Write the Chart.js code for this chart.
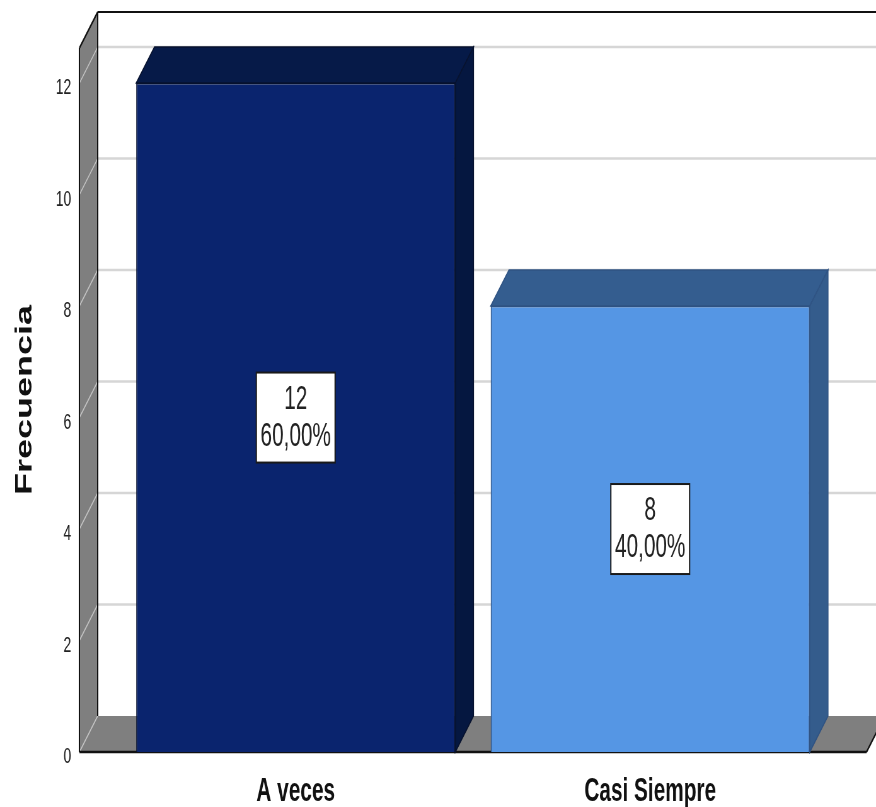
<!DOCTYPE html>
<html>
<head>
<meta charset="utf-8">
<script src="https://cdn.jsdelivr.net/npm/chart.js@4/dist/chart.umd.min.js"></script>
<style>
  html, body { margin: 0; padding: 0; background: #fff; overflow: hidden; }
  #wrap { width: 876px; height: 807px; overflow: hidden; position: relative; }
  /* the reference is squeezed horizontally, so draw wide and squeeze it */
  #chart { transform: scaleX(0.6302); transform-origin: 0 0; }
</style>
</head>
<body>
<div id="wrap"><canvas id="chart" width="1390" height="807"></canvas></div>
<script>
const categories = ['A veces', 'Casi Siempre']
const frequencies = [12, 8]
const yTicks = [0, 2, 4, 6, 8, 10, 12]

const frontColors = ['#0a246e', '#5596e4']
const topColors = ['#061a48', '#345d8f']
const sideColors = ['#051740', '#345c8c']
const edgeColors = ['#07122e', '#2f5383']

const DX = 29, DY = -36   // depth of the 3d box
const EXT = 62            // how far walls/floor run past the plot area

const total = frequencies.reduce((a, b) => a + b, 0)
const pct = v => (v / total * 100).toFixed(2).replace('.', ',') + '%'

function poly(ctx, pts) {
  ctx.beginPath()
  ctx.moveTo(pts[0][0], pts[0][1])
  pts.slice(1).forEach(p => ctx.lineTo(p[0], p[1]))
  ctx.closePath()
}
function line(ctx, x1, y1, x2, y2) {
  ctx.beginPath(); ctx.moveTo(x1, y1); ctx.lineTo(x2, y2); ctx.stroke()
}

const box3d = {
  id: 'box3d',
  beforeDatasetsDraw(chart) {
    const { ctx, chartArea: a, scales: { y }, width } = chart
    const x0 = a.left - EXT, x1 = a.right + EXT
    const yb = y.getPixelForValue(0), yt = a.top
    ctx.save()
    // floor
    ctx.fillStyle = '#7f7f7f'
    poly(ctx, [[x0, yb], [x1, yb], [x1 + DX, yb + DY], [x0 + DX, yb + DY]])
    ctx.fill()
    // left wall
    poly(ctx, [[x0, yt], [x0 + DX, yt + DY], [x0 + DX, yb + DY], [x0, yb]])
    ctx.fill()
    // grid lines: diagonal on wall, horizontal on back wall
    yTicks.forEach(v => {
      const py = y.getPixelForValue(v)
      ctx.strokeStyle = '#c4c4c4'; ctx.lineWidth = 1.5
      line(ctx, x0, py, x0 + DX, py + DY)
      if (v > 0) {
        ctx.strokeStyle = '#d6d6d6'; ctx.lineWidth = 2.5
        line(ctx, x0 + DX, py + DY, width, py + DY)
      }
    })
    // outlines
    ctx.strokeStyle = '#111'; ctx.lineWidth = 2
    line(ctx, x0, yt, x0, yb)
    line(ctx, x0 + DX, yt + DY, x0 + DX, yb + DY)
    line(ctx, x0, yt, x0 + DX, yt + DY)
    line(ctx, x0 + DX, yt + DY, width, yt + DY)
    ctx.lineWidth = 2.5
    line(ctx, x0, yb, x1, yb)
    ctx.lineWidth = 2
    line(ctx, x1, yb, x1 + DX, yb + DY)
    ctx.restore()
  },
  afterDatasetsDraw(chart) {
    const { ctx } = chart
    const meta = chart.getDatasetMeta(0)
    ctx.save()
    meta.data.forEach((bar, i) => {
      const { x, y, base, width } = bar.getProps(['x', 'y', 'base', 'width'], true)
      const l = x - width / 2, r = x + width / 2
      ctx.strokeStyle = edgeColors[i]; ctx.lineWidth = 1.5
      ctx.fillStyle = topColors[i]
      poly(ctx, [[l, y], [r, y], [r + DX, y + DY], [l + DX, y + DY]])
      ctx.fill(); ctx.stroke()
      ctx.fillStyle = sideColors[i]
      poly(ctx, [[r, y], [r + DX, y + DY], [r + DX, base + DY], [r, base]])
      ctx.fill(); ctx.stroke()

      // value label box
      const cy = (y + base) / 2
      const bw = 125, bh = 90
      ctx.fillStyle = '#fff'
      ctx.fillRect(x - bw / 2, cy - bh / 2, bw, bh)
      ctx.strokeStyle = '#1a1a1a'; ctx.lineWidth = 2
      ctx.strokeRect(x - bw / 2, cy - bh / 2, bw, bh)
      ctx.fillStyle = '#222'
      ctx.font = "33px 'Liberation Sans', Arial, sans-serif"
      ctx.textAlign = 'center'; ctx.textBaseline = 'middle'
      ctx.fillText(String(frequencies[i]), x, cy - 18)
      ctx.fillText(pct(frequencies[i]), x, cy + 19)
    })
    ctx.restore()
  }
}

Chart.defaults.font.family = "'Liberation Sans', Arial, sans-serif"

new Chart(document.getElementById('chart'), {
  type: 'bar',
  data: {
    labels: categories,
    datasets: [{
      label: 'Frecuencia',
      data: frequencies,
      backgroundColor: frontColors,
      borderColor: edgeColors,
      borderWidth: 1.5,
      barPercentage: 0.9,
      categoryPercentage: 1.0
    }]
  },
  options: {
    responsive: false,
    animation: false,
    layout: { padding: { left: 0, right: 77, top: 48, bottom: 0 } },
    plugins: { legend: { display: false }, tooltip: { enabled: false } },
    scales: {
      x: {
        grid: { display: false, drawTicks: false },
        border: { display: false },
        ticks: { color: '#111', padding: 20, font: { size: 33, weight: 'bold' } },
        afterFit(s) { s.height = 55 }
      },
      y: {
        min: 0,
        max: 12.63,
        grid: { display: false, drawTicks: false },
        border: { display: false },
        ticks: {
          stepSize: 2, includeBounds: false, color: '#222',
          padding: 75, labelOffset: 5, font: { size: 22 }
        },
        title: {
          display: true, text: 'Frecuencia', color: '#111',
          font: { size: 36, weight: 'bold' }, padding: { top: 18, bottom: 0 }
        },
        afterFit(s) {
          s.width = 188
          s.paddingTop = 0
          s.paddingBottom = 0
        }
      }
    }
  },
  plugins: [box3d]
})
</script>
</body>
</html>
